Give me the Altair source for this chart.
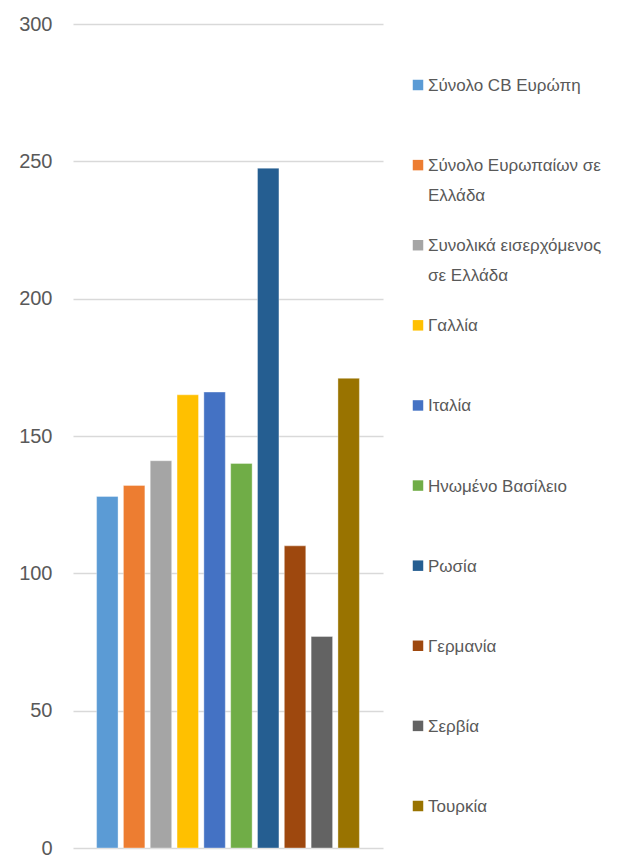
import altair as alt
import pandas as pd

categories = [
    "Σύνολο CB Ευρώπη",
    "Σύνολο Ευρωπαίων σε Ελλάδα",
    "Συνολικά εισερχόμενος σε Ελλάδα",
    "Γαλλία",
    "Ιταλία",
    "Ηνωμένο Βασίλειο",
    "Ρωσία",
    "Γερμανία",
    "Σερβία",
    "Τουρκία",
]
legend_labels = [
    "Σύνολο CB Ευρώπη",
    "Σύνολο Ευρωπαίων σε\nΕλλάδα",
    "Συνολικά εισερχόμενος\nσε Ελλάδα",
    "Γαλλία",
    "Ιταλία",
    "Ηνωμένο Βασίλειο",
    "Ρωσία",
    "Γερμανία",
    "Σερβία",
    "Τουρκία",
]
values = [128, 132, 141, 165, 166, 140, 247.5, 110, 77, 171]
colors = ["#5B9BD5", "#ED7D31", "#A5A5A5", "#FFC000", "#4472C4",
          "#70AD47", "#255E91", "#9E480E", "#636363", "#997300"]
y_ticks = [0, 50, 100, 150, 200, 250, 300]

FONT = "Liberation Sans"
TXT = "#595959"

df = pd.DataFrame({
    "category": categories,
    "label": legend_labels,
    "value": values,
    "idx": list(range(len(categories))),
})

color_enc = alt.Color("category:N", scale=alt.Scale(domain=categories, range=colors), legend=None)

bars = alt.Chart(df).mark_bar(stroke="#ffffff", strokeWidth=0.6, strokeOpacity=0.6).encode(
    x=alt.X("category:N", sort=categories,
            scale=alt.Scale(paddingInner=0.2, paddingOuter=0.88), axis=None),
    y=alt.Y("value:Q", title=None,
            scale=alt.Scale(domain=[0, 300], nice=False),
            axis=alt.Axis(values=y_ticks, grid=True, domain=False, ticks=False,
                          labelFontSize=20, labelColor=TXT, labelFont=FONT,
                          labelPadding=21, minExtent=65, maxExtent=65,
                          gridColor="#d9d9d9", gridWidth=1.5)),
    color=color_enc,
).properties(width=310, height=824)

lbase = alt.Chart(df).encode(
    y=alt.Y("idx:Q", scale=alt.Scale(domain=[0, 9], range=[61, 782], nice=False, zero=False), axis=None),
)
syms = lbase.mark_square(size=110, opacity=1).encode(x=alt.value(35), color=color_enc)
texts = lbase.mark_text(align="left", baseline="alphabetic", dy=6, fontSize=17,
                        lineBreak="\n", lineHeight=30, color=TXT, font=FONT).encode(
    x=alt.value(45), text="label:N")
legend = alt.layer(syms, texts).properties(width=230, height=824)

chart = alt.hconcat(bars, legend, spacing=0).properties(
    padding={"top": 6, "left": 0, "right": 0, "bottom": 0}
).configure(font=FONT).configure_view(stroke="transparent", strokeWidth=0, clip=False)

chart.save("out.html", embed_options={"renderer": "svg", "actions": False})
